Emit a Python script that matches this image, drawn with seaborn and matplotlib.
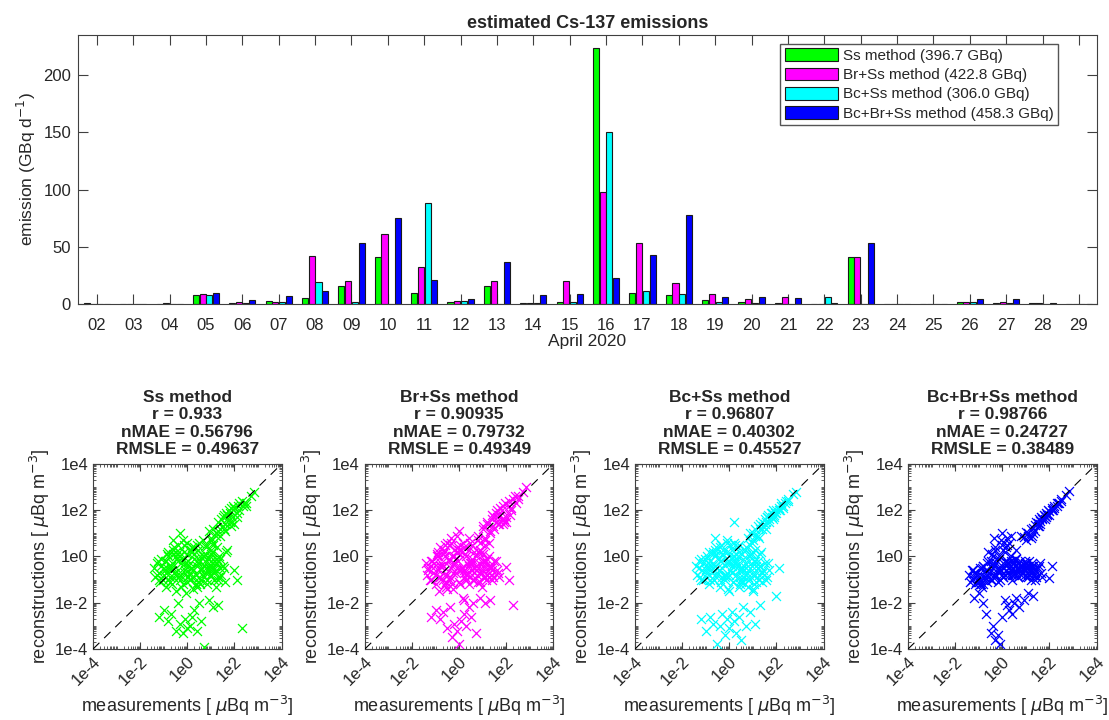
import numpy as np
import pandas as pd
import matplotlib
matplotlib.use("Agg")
import matplotlib.pyplot as plt
import matplotlib.ticker as mticker
import seaborn as sns

# ------------------------------------------------------------------
# data
# ------------------------------------------------------------------
days = ["02", "03", "04", "05", "06", "07", "08", "09", "10", "11", "12", "13", "14", "15",
        "16", "17", "18", "19", "20", "21", "22", "23", "24", "25", "26", "27", "28", "29"]

# emission (GBq / day)
ss_method = [0.3, 0.2, 0.2, 7.9, 1.0, 2.6, 4.7, 16.0, 41.0, 9.6, 1.7, 15.7, 0.9, 1.7,
             224.0, 9.9, 7.3, 3.5, 1.7, 0.3, 0.0, 41.0, 0.2, 0.2, 1.7, 0.9, 0.3, 0.1]
br_ss_method = [0.2, 0.2, 0.3, 8.5, 1.5, 1.7, 42.0, 20.4, 61.0, 31.8, 2.6, 19.8, 0.9, 20.0,
                98.0, 52.8, 18.4, 8.2, 4.0, 6.1, 0.0, 41.4, 0.2, 0.2, 2.0, 1.2, 0.5, 0.1]
bc_ss_method = [0.1, 0.1, 0.2, 7.9, 1.0, 1.7, 19.0, 1.7, 0.0, 88.0, 2.9, 0.0, 0.9, 1.7,
                150.0, 11.0, 8.2, 2.0, 0.9, 0.0, 6.4, 0.0, 0.1, 0.1, 1.7, 0.9, 0.2, 0.1]
bc_br_ss_method = [0.1, 0.1, 0.2, 9.9, 3.0, 7.0, 11.4, 53.0, 75.5, 21.0, 4.0, 36.4, 7.3, 8.2,
                   23.0, 42.6, 77.6, 6.1, 6.4, 5.0, 0.9, 53.0, 0.1, 0.1, 4.4, 3.8, 0.3, 0.1]

method_labels = ["Ss method (396.7 GBq)", "Br+Ss method (422.8 GBq)",
                 "Bc+Ss method (306.0 GBq)", "Bc+Br+Ss method (458.3 GBq)"]
method_colors = ["#00ff00", "#ff00ff", "#00ffff", "#0000ff"]

panel_titles = [
    "Ss method\nr = 0.933\nnMAE = 0.56796\nRMSLE = 0.49637",
    "Br+Ss method\nr = 0.90935\nnMAE = 0.79732\nRMSLE = 0.49349",
    "Bc+Ss method\nr = 0.96807\nnMAE = 0.40302\nRMSLE = 0.45527",
    "Bc+Br+Ss method\nr = 0.98766\nnMAE = 0.24727\nRMSLE = 0.38489",
]

# measurements, log10(uBq m-3)
meas_log10 = [
    # upper branch
    0.8, 0.9, 1.0, 1.1, 1.2, 1.3, 1.4, 1.45, 1.5, 1.55, 1.6, 1.65, 1.7, 1.75, 1.8, 1.85,
    1.9, 1.95, 2.0, 2.1, 2.2, 2.35, 2.5, 2.7, 2.85,
    # main cloud
    -1.4, -1.35, -1.3, -1.2, -1.15, -1.1, -1.0, -0.95, -0.9, -0.85,
    -0.8, -0.75, -0.7, -0.65, -0.6, -0.55, -0.5, -0.45, -0.4, -0.35,
    -0.3, -0.25, -0.2, -0.15, -0.1, -0.05, 0.0, 0.05, 0.1, 0.15,
    0.2, 0.25, 0.3, 0.35, 0.4, 0.45, 0.5, 0.55, 0.6, 0.65,
    0.7, 0.75, 0.8, 0.85, 0.9, 0.95, 1.0, 1.05, 1.1, 1.15,
    1.2, 1.3, 1.4, 1.5, 1.6, 1.7, -0.6, 0.0, 0.4, 0.2,
    # low group and outliers
    -1.2, -1.0, -0.8, -0.7, -0.5, -0.4, -0.3, -0.2, -0.1, 0.0, 0.1, 0.2, 0.3, 0.4,
    0.5, 0.6, 0.7, 0.9, 1.1, 1.3, 2.0, 2.1, 2.3,
    # cloud core
    -0.9, -0.7, -0.5, -0.3, -0.1, 0.1, 0.3, 0.5, 0.7, 0.9,
    1.1, 1.3, -0.8, -0.4, 0.0, 0.4, 0.8, 1.2, -0.6, -0.2,
    0.2, 0.6, 1.0, 1.4, -1.1, 0.05, 0.35, 0.65, 0.95, 1.25,
    # cloud fill
    -1.3, -1.25, -1.05, -0.95, -0.85, -0.75, -0.65, -0.55, -0.45, -0.35,
    -0.25, -0.15, -0.05, 0.05, 0.15, 0.25, 0.35, 0.45, 0.55, 0.65,
    0.75, 0.85, 0.95, 1.05, 1.15, 1.25, 1.35, 1.45, 1.55, 1.65,
    -1.2, -1.0, -0.8, -0.6, -0.4, -0.2, 0.0, 0.2, 0.4, 0.6,
    0.8, 1.0, 1.2, 1.4, -0.7, -0.3, 0.1, 0.5, 0.9, 1.3,
    -0.5, -0.1, 0.3, 0.7, 1.1, -0.9, -0.35, 0.15, 0.55, 1.0,
    # branch fill
    1.0, 1.1, 1.2, 1.3, 1.4, 1.5, 1.6, 1.7, 1.8, 1.9,
    2.0, 2.1, 2.2, 2.3, 2.4, 2.5, 1.25, 1.55, 1.85, 2.15,
]

# reconstructions, log10(uBq m-3)
rec_ss_log10 = [
    0.5, 1.1, 0.7, 1.2, 0.9, 1.5, 1.2, 1.6, 1.3, 1.8, 1.4, 1.9, 1.6, 2.0, 1.5, 2.1,
    1.7, 2.2, 1.4, 1.9, 2.3, 2.2, 2.3, 2.6, 2.8,
    -0.5, -0.9, -0.3, -0.7, -1.1, -0.4, -0.8, -0.2, -1.3, -0.5,
    0.0, -0.9, -0.4, -1.2, 0.3, -0.7, -1.5, -0.1, 0.5, -0.9,
    1.0, -0.3, -1.2, 0.2, -0.6, -1.6, 0.6, -0.2, -1.0, 0.3,
    -0.5, -1.4, 0.1, -0.8, 0.5, -0.3, -1.1, 0.0, -0.6, 0.7,
    -0.9, -0.2, 0.4, -1.2, -0.5, 0.0, -0.8, -0.3, 0.6, -1.0,
    -0.6, -0.2, -0.9, -0.4, -1.1, 0.3, 0.1, -0.9, -1.3, 0.2,
    -2.6, -2.3, -2.8, -2.5, -3.2, -2.0, -2.9, -3.3, -2.7, -3.1, -3.0, -2.6, -2.3, -3.2,
    -2.0, -2.8, -3.9, -1.9, -2.2, -2.1, -0.6, -1.0, -3.1,
    -0.2, -0.6, 0.2, -1.0, -0.3, -0.7, 0.4, -0.9, -0.4, -0.1,
    -0.6, -0.9, -1.0, -0.6, 0.1, -0.2, -0.7, -0.3, 0.7, -0.1,
    -0.9, -0.5, 0.1, -0.5, -0.1, -0.4, -1.2, 0.0, -0.8, -0.1,
    -0.8, -0.2, -1.0, -0.6, 0.1, -1.1, -0.3, 0.4, -0.8, 0.0,
    -1.3, 0.5, -0.4, -0.9, 0.2, -0.6, -1.2, 0.3, -0.2, -0.8,
    0.1, -1.0, -0.4, 0.2, -0.7, -0.3, 0.0, -0.8, -0.5, 0.2,
    -1.0, -0.5, 0.2, -0.9, -0.2, 0.7, -1.1, 0.4, -0.4, -1.0,
    -0.5, 0.3, -1.3, -0.1, -0.5, -0.8, 0.3, 0.6, -0.6, -1.0,
    0.0, -0.7, -0.1, 0.0, -0.5, -0.7, 0.2, -0.5, -1.2, -0.2,
    0.8, 0.5, 1.0, 1.1, 0.9, 1.7, 1.1, 1.8, 1.9, 1.5,
    2.1, 1.7, 2.0, 2.4, 2.3, 2.2, 0.4, 1.2, 1.3, 2.2,
]
rec_br_ss_log10 = [
    0.9, 0.6, 1.2, 0.8, 1.4, 1.1, 1.6, 1.3, 1.7, 1.5, 2.0, 1.4, 1.8, 2.1, 1.6, 2.2,
    1.5, 2.3, 1.7, 2.4, 2.0, 2.6, 2.5, 2.8, 3.0,
    -0.3, -0.8, -0.5, -1.0, -0.2, -0.7, -1.2, 0.1, -0.6, -1.5,
    0.4, -0.3, -1.0, 0.2, -0.8, -1.3, 0.6, -0.1, -0.9, 0.8,
    -0.4, -1.4, 0.3, -0.7, 0.9, -0.2, -1.1, 0.5, -0.5, -1.8,
    0.4, -0.9, 0.0, -0.3, -1.2, 0.6, -0.6, -0.1, -1.0, 0.2,
    -0.4, -0.8, 0.7, -0.3, -1.1, 0.2, -0.6, -0.9, 0.5, -0.2,
    -0.8, -0.4, -1.0, -0.2, -0.6, -0.9, 0.0, 1.1, 0.3, -1.9,
    -2.6, -2.3, -2.7, -2.4, -3.1, -2.2, -3.5, -2.9, -3.2, -3.8, -2.8, -2.5, -3.0, -2.2,
    -2.6, -2.0, -3.3, -1.8, -2.0, -1.9, -0.45, -1.0, -2.1,
    0.2, -0.4, -0.8, 0.0, -0.5, 0.3, -1.0, -0.3, 0.0, -0.7,
    -0.4, -0.5, -0.9, 0.5, -0.6, -0.4, 0.2, -0.8, -1.2, -0.3,
    -0.6, -1.0, -0.2, -0.6, -0.5, 0.1, -0.7, -0.5, -1.3, -0.9,
    -0.6, -1.0, -0.3, 0.0, -0.9, -0.4, 0.3, -1.1, -0.2, 0.6,
    -0.7, -0.1, 0.4, -1.2, -0.5, 0.1, -0.8, -0.3, 0.5, -1.0,
    -0.4, 0.2, -0.7, -0.2, -1.0, 0.0, -0.5, -0.9, -0.2, -0.7,
    -0.2, -0.8, -0.4, 0.5, -1.0, 0.0, 0.3, -0.7, 0.8, -0.3,
    -1.1, -0.4, -0.1, -0.8, 0.1, -1.2, -0.6, -0.2, 0.3, -0.4,
    -1.4, 0.2, -1.0, -0.6, -0.9, 0.0, -0.5, 0.6, -0.8, 0.1,
    1.3, 0.7, 1.5, 1.0, 1.8, 1.2, 1.7, 1.4, 2.0, 1.6,
    1.5, 2.2, 2.1, 2.5, 2.3, 2.6, 0.6, 1.9, 1.4, 1.8,
]
rec_bc_ss_log10 = [
    0.8, 1.0, 1.0, 0.9, 1.3, 1.2, 1.5, 1.3, 1.6, 1.5, 1.7, 1.8, 1.6, 1.9, 1.7, 2.0,
    1.8, 1.9, 2.0, 2.1, 2.2, 2.3, 2.5, 2.7, 2.8,
    -0.4, -0.8, -0.2, -1.0, -0.6, -0.3, -0.9, 0.0, -0.5, -1.2,
    -0.2, -0.7, 0.2, -1.0, -0.4, 0.4, -0.8, -0.1, -1.3, 0.5,
    -0.5, 0.1, -0.9, -0.3, 0.7, -1.4, 0.0, -0.6, 0.3, -1.1,
    -0.2, 0.5, -0.8, -0.4, 0.2, -1.2, -0.6, 0.1, -0.9, -0.3,
    0.4, -0.7, -1.0, 0.0, -0.5, 0.6, -0.8, -0.2, 0.3, -1.1,
    -0.5, 0.1, -0.7, -0.3, -0.9, -0.6, 0.8, -1.5, 0.5, 1.5,
    -2.7, -3.2, -2.6, -2.9, -3.8, -3.0, -2.5, -3.4, -2.7, -3.1, -2.4, -2.8, -3.3, -2.6,
    -3.6, -2.2, -3.0, -2.4, -2.9, -2.1, -1.7, -0.5, 2.1,
    -0.3, 0.1, -0.5, -0.9, 0.2, -0.4, -0.2, -1.1, -0.5, 0.1,
    -0.8, -0.4, -0.6, -0.2, -0.8, -0.6, -1.3, -0.2, 0.3, -1.0,
    0.0, -0.6, -1.4, -0.7, -1.0, -0.3, 0.4, -1.2, -0.4, -1.0,
    -0.5, -0.9, -0.1, -0.7, 0.2, -0.4, -1.0, 0.1, -0.6, -0.2,
    0.3, -0.8, -0.3, 0.5, -1.1, -0.4, 0.0, -0.9, -0.5, 0.3,
    -0.7, -0.2, 0.1, -1.2, -0.4, -0.8, 0.2, -0.6, -1.0, -0.3,
    -0.1, -0.6, -1.0, 0.0, 0.4, -0.8, -0.2, 0.6, -1.3, -0.1,
    -0.9, 0.2, -0.5, -1.1, -0.3, 0.1, -0.7, -1.0, 0.5, -0.4,
    -0.7, 0.6, -0.3, -0.8, -0.2, -0.4, -1.1, 0.0, -0.5, -1.5,
    0.7, 1.2, 0.9, 1.4, 1.2, 1.4, 1.7, 1.5, 1.9, 1.7,
    1.9, 2.0, 2.3, 2.2, 2.4, 2.4, 0.8, 1.2, 1.6, 2.0,
]
rec_bc_br_ss_log10 = [
    0.9, 0.85, 1.05, 1.0, 1.2, 1.25, 1.35, 1.5, 1.45, 1.6, 1.55, 1.7, 1.65, 1.8, 1.75, 1.9,
    1.85, 2.0, 1.95, 2.1, 2.2, 2.3, 2.5, 2.65, 2.85,
    -0.8, -1.1, -0.6, -0.9, -1.2, -0.7, -1.0, -0.5, -0.8, -1.3,
    -0.4, -0.9, -0.6, -1.1, -0.2, -0.7, -1.0, 0.1, -0.5, -0.8,
    0.4, -0.3, -1.1, 0.0, -0.6, 0.7, -0.4, -0.9, 0.2, -0.6,
    0.5, -0.3, -0.8, 0.9, -0.5, -0.2, -0.7, -0.4, 0.3, -0.9,
    -0.5, -0.2, -0.8, -0.4, -0.6, -0.3, -0.9, -0.5, -0.7, -0.2,
    -0.6, -0.4, -0.8, -0.5, -0.3, -0.9, 0.2, 1.0, -1.0, 0.8,
    -1.8, -1.6, -2.0, -2.5, -3.3, -3.0, -3.6, -3.4, -3.8, -2.6, -1.9, -2.1, -2.3, -2.5,
    -2.0, -1.8, -2.2, -1.9, -1.6, -1.7, -0.95, -0.4, 2.3,
    -1.0, -0.7, -0.4, -0.9, -0.6, -0.2, -0.5, -0.8, -0.3, -0.6,
    -0.9, -0.5, -1.2, -0.3, -0.8, -0.6, -0.4, -0.7, -0.9, -0.5,
    -0.3, -0.7, -0.5, -1.0, -1.1, -0.9, -0.2, -0.6, -0.8, -0.4,
    -1.0, -0.6, -0.8, -1.2, -0.5, -0.9, -0.3, -0.7, -1.0, -0.4,
    -0.8, -0.1, -0.6, 0.3, -0.4, -0.7, 0.0, -0.3, -0.6, -0.9,
    -0.4, -0.7, -0.2, -0.5, -0.8, -0.3, -0.6, -0.9, -0.4, -0.7,
    -0.7, -1.1, -0.4, -0.9, 0.0, -0.6, 0.5, -0.2, -0.8, -0.1,
    -0.6, -0.4, -1.0, -0.7, -0.6, 0.3, -0.8, -0.3, -0.5, -0.8,
    -0.2, -1.0, 0.6, -0.6, -0.4, -1.2, 0.8, 0.4, -0.1, -0.3,
    0.7, 0.9, 0.8, 1.0, 1.1, 1.3, 1.4, 1.6, 1.6, 1.8,
    1.8, 2.0, 2.1, 2.2, 2.3, 2.4, 0.9, 1.3, 1.7, 2.0,
]

# ------------------------------------------------------------------
# style
# ------------------------------------------------------------------
sns.set_style("ticks")
plt.rcParams["font.family"] = ["Liberation Sans", "DejaVu Sans"]
plt.rcParams["mathtext.fontset"] = "dejavusans"
txt_col = "#262626"
plt.rcParams["text.color"] = txt_col
plt.rcParams["axes.labelcolor"] = txt_col

fig = plt.figure(figsize=(11.09, 7.2), dpi=100)

# ------------------------------------------------------------------
# bar chart of emissions
# ------------------------------------------------------------------
ax_bar = fig.add_axes([0.0703, 0.578, 0.919, 0.373])

bars = pd.DataFrame({
    "day": days * 4,
    "emission": ss_method + br_ss_method + bc_ss_method + bc_br_ss_method,
    "method": sum([[lbl] * len(days) for lbl in method_labels], []),
})
sns.barplot(data=bars, x="day", y="emission", hue="method", hue_order=method_labels,
            palette=method_colors, saturation=1, width=0.74, gap=0.1, errorbar=None,
            edgecolor="#1a1a1a", linewidth=0.8, ax=ax_bar)

ax_bar.set_xlim(-0.52, len(days) - 0.5)
ax_bar.set_ylim(0, 235)
ax_bar.set_yticks([0, 50, 100, 150, 200])
ax_bar.set_title("estimated Cs-137 emissions", fontsize=13, fontweight="bold", pad=5)
ax_bar.set_xlabel("April 2020", fontsize=12.5, labelpad=1)
ax_bar.set_ylabel(r"emission (GBq d$^{-1}$)", fontsize=12.5)
ax_bar.tick_params(direction="in", top=True, right=True, length=7.5, width=0.8,
                   color="#404040", labelcolor=txt_col, labelsize=12, pad=5)
ax_bar.tick_params(axis="x", pad=10)
for sp in ax_bar.spines.values():
    sp.set_visible(True)
    sp.set_color("#404040")
    sp.set_linewidth(0.8)

handles, labels = ax_bar.get_legend_handles_labels()
ax_bar.legend(handles, labels, loc="upper left", bbox_to_anchor=(0.689, 0.968),
              fontsize=11, frameon=True, fancybox=False, framealpha=1, edgecolor="#555555",
              handlelength=3.5, handleheight=0.9, handletextpad=0.3, labelspacing=0.3,
              borderpad=0.3, borderaxespad=0.0)

# ------------------------------------------------------------------
# scatter panels measurements vs reconstructions
# ------------------------------------------------------------------
recs = [rec_ss_log10, rec_br_ss_log10, rec_bc_ss_log10, rec_bc_br_ss_log10]
lefts = [0.0839, 0.329, 0.5726, 0.8188]
meas = 10.0 ** np.array(meas_log10)

for i in range(4):
    ax = fig.add_axes([lefts[i], 0.0986, 0.170, 0.257])
    rec = 10.0 ** np.array(recs[i])
    sns.scatterplot(x=meas, y=rec, marker="x", color=method_colors[i], s=42,
                    linewidth=0.9, ax=ax, zorder=2)
    ax.plot([1e-4, 1e4], [1e-4, 1e4], color="black", lw=0.8, ls=(0, (8, 6)), zorder=3)
    ax.set_xscale("log")
    ax.set_yscale("log")
    ax.set_xlim(1e-4, 1e4)
    ax.set_ylim(1e-4, 1e4)
    major = [1e-4, 1e-2, 1e0, 1e2, 1e4]
    major_lbl = ["1e-4", "1e-2", "1e0", "1e2", "1e4"]
    ax.xaxis.set_major_locator(mticker.FixedLocator(major))
    ax.yaxis.set_major_locator(mticker.FixedLocator(major))
    ax.xaxis.set_major_formatter(mticker.FixedFormatter(major_lbl))
    ax.yaxis.set_major_formatter(mticker.FixedFormatter(major_lbl))
    ax.xaxis.set_minor_locator(mticker.LogLocator(base=10, subs=np.arange(1, 10), numticks=30))
    ax.yaxis.set_minor_locator(mticker.LogLocator(base=10, subs=np.arange(1, 10), numticks=30))
    ax.xaxis.set_minor_formatter(mticker.NullFormatter())
    ax.yaxis.set_minor_formatter(mticker.NullFormatter())
    ax.tick_params(which="major", direction="in", top=True, right=True, length=5, width=0.8,
                   color="#404040", labelcolor=txt_col, labelsize=12)
    ax.tick_params(which="minor", direction="in", top=True, right=True, length=2.5,
                   width=0.6, color="#404040")
    for lab in ax.get_xticklabels():
        lab.set_rotation(45)
        lab.set_ha("right")
        lab.set_rotation_mode("anchor")
    for sp in ax.spines.values():
        sp.set_visible(True)
        sp.set_color("#404040")
        sp.set_linewidth(0.8)
    ax.set_title(panel_titles[i], fontsize=12.5, fontweight="bold", linespacing=1.2, pad=7)
    ax.set_xlabel(r"measurements [ $\mu$Bq m$^{-3}$]", fontsize=13, labelpad=4)
    ax.set_ylabel(r"reconstructions [ $\mu$Bq m$^{-3}$]", fontsize=13, labelpad=2)

fig.savefig("out.png", dpi=100)
